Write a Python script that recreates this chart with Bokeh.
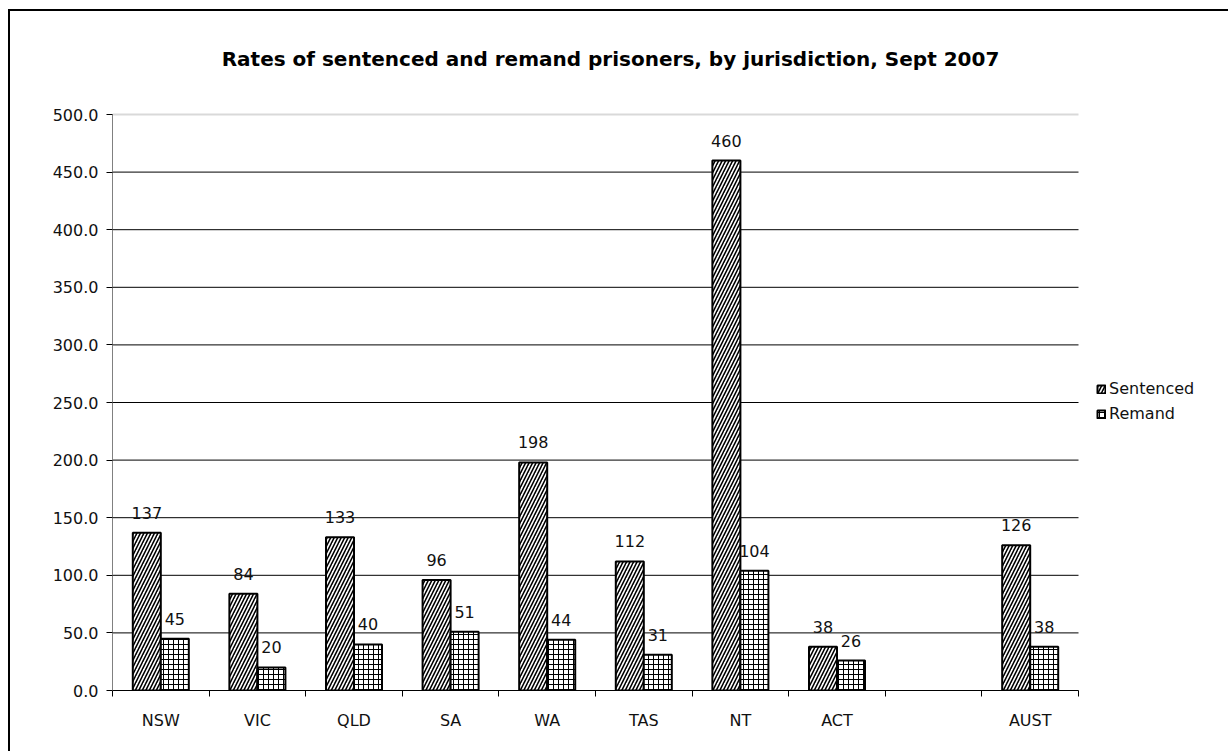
from bokeh.plotting import figure
from bokeh.models import (ColumnDataSource, FixedTicker, NumeralTickFormatter,
                          Legend, LegendItem, Range1d)
from bokeh.embed import file_html
from bokeh.resources import INLINE
from bokeh.core.properties import value

title_text = "Rates of sentenced and remand prisoners, by jurisdiction, Sept 2007"
categories = ["NSW", "VIC", "QLD", "SA", "WA", "TAS", "NT", "ACT", "", "AUST"]
sentenced = [137, 84, 133, 96, 198, 112, 460, 38, None, 126]
remand = [45, 20, 40, 51, 44, 31, 104, 26, None, 38]
y_ticks = [0, 50, 100, 150, 200, 250, 300, 350, 400, 450, 500]

FONT = "DejaVu Sans"
BAR_W = 0.29
N = len(categories)
FRAME_LEFT = 102
PX_PER_CAT = 96.6
CANVAS_W = 1220
CANVAS_H = 742
PLOT_TOP = 103      # canvas px where the value 500 sits
PLOT_BOTTOM = 679   # canvas px where the value 0 sits
Y_MAX = y_ticks[-1]

idx = [i for i, v in enumerate(sentenced) if v is not None]
centers = [i + 0.5 for i in range(N)]
src_s = ColumnDataSource(dict(
    x=[centers[i] - BAR_W / 2 for i in idx],
    top=[sentenced[i] for i in idx],
    lab=[str(sentenced[i]) for i in idx]))
src_r = ColumnDataSource(dict(
    x=[centers[i] + BAR_W / 2 for i in idx],
    top=[remand[i] for i in idx],
    lab=[str(remand[i]) for i in idx]))

px_per_unit = (PLOT_BOTTOM - PLOT_TOP) / Y_MAX
y_end = Y_MAX + PLOT_TOP / px_per_unit
x_end = (CANVAS_W - FRAME_LEFT) / PX_PER_CAT
p = figure(width=CANVAS_W, height=CANVAS_H, output_backend="svg", toolbar_location=None,
           x_range=Range1d(0, x_end), y_range=Range1d(0, y_end),
           min_border_left=FRAME_LEFT, min_border_right=0, min_border_top=0,
           min_border_bottom=CANVAS_H - PLOT_BOTTOM)
p.styles = {"margin-left": "8px", "margin-top": "9px",
            "border-left": "2px solid black", "border-top": "2px solid black"}

p.outline_line_color = None
p.background_fill_color = "white"
p.xgrid.grid_line_color = None
p.ygrid.grid_line_color = None

# title placed above the plot area
title_y = Y_MAX + 56 / px_per_unit
title_x = (600 - FRAME_LEFT) / PX_PER_CAT
p.text(x=[title_x], y=[title_y], text=[title_text], text_align="center",
       text_baseline="middle", text_font=value(FONT), text_font_size="20px",
       text_font_style="bold", text_color="black")

# gridlines limited to the category area
grid_y = y_ticks[1:-1]
p.segment(x0=[0] * len(grid_y), x1=[N] * len(grid_y), y0=grid_y, y1=grid_y,
          line_color="black", line_width=1)
p.segment(x0=[0], x1=[N], y0=[Y_MAX], y1=[Y_MAX],
          line_color="#d9d9d9", line_width=2)

rs = p.vbar(x="x", top="top", width=BAR_W, bottom=0, source=src_s,
            fill_color="white", line_color="black", line_width=2,
            hatch_pattern="/", hatch_color="black", hatch_scale=7, hatch_weight=1.6)
rr = p.vbar(x="x", top="top", width=BAR_W, bottom=0, source=src_r,
            fill_color="white", line_color="black", line_width=2,
            hatch_pattern="+", hatch_color="black", hatch_scale=5, hatch_weight=1)

for src in (src_s, src_r):
    p.text(x="x", y="top", text="lab", source=src, text_align="center",
           text_baseline="bottom", y_offset=-14, text_font=value(FONT),
           text_font_size="16px", text_color="#111111")

# axes
p.xaxis.bounds = (0, N)
p.xaxis.ticker = FixedTicker(ticks=centers, minor_ticks=list(range(N + 1)))
p.xaxis.major_label_overrides = {c: lab for c, lab in zip(centers, categories)}
p.xaxis.major_tick_out = 0
p.xaxis.major_tick_in = 0
p.xaxis.minor_tick_out = 6
p.xaxis.minor_tick_in = 0
p.xaxis.minor_tick_line_color = "black"
p.xaxis.axis_line_color = "black"
p.xaxis.major_label_standoff = 14
p.xaxis.major_label_text_font = FONT
p.xaxis.major_label_text_font_size = "16px"
p.xaxis.major_label_text_color = "#111111"

p.yaxis.bounds = (0, Y_MAX)
p.yaxis.ticker = FixedTicker(ticks=y_ticks)
p.yaxis.formatter = NumeralTickFormatter(format="0.0")
p.yaxis.major_tick_out = 6
p.yaxis.major_tick_in = 0
p.yaxis.minor_tick_line_color = None
p.yaxis.axis_line_color = "#808080"
p.yaxis.major_tick_line_color = "black"
p.yaxis.major_label_standoff = 8
p.yaxis.major_label_text_font = FONT
p.yaxis.major_label_text_font_size = "16px"
p.yaxis.major_label_text_color = "#111111"

legend = Legend(items=[LegendItem(label="Sentenced", renderers=[rs]),
                       LegendItem(label="Remand", renderers=[rr])],
                location=(984, 267), glyph_width=10, glyph_height=10,
                label_text_font=FONT, label_text_font_size="16px",
                label_text_color="#111111", spacing=6, padding=2, margin=0,
                label_standoff=3, border_line_color=None,
                background_fill_alpha=0)
p.add_layout(legend)

open("out.html", "w").write(file_html(p, INLINE))
